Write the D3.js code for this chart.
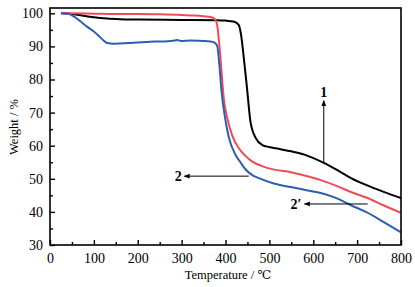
<!DOCTYPE html>
<html>
<head>
<meta charset="utf-8">
<script src="https://cdn.jsdelivr.net/npm/d3@7"></script>
<style>
  body { margin: 0; background: #fff; }
  svg { display: block; font-family: "Liberation Serif", "DejaVu Serif", serif; }
</style>
</head>
<body>
<svg width="415" height="287"></svg>
<script>
// sample 1 (black)
const tempBlack = [25, 50, 80, 100, 130, 160, 200, 300, 380, 400, 418, 430, 436, 441, 449, 457, 469, 484, 500, 514, 550, 580, 624, 655, 686, 738, 770, 800];
const weightBlack = [100, 99.8, 99.2, 98.8, 98.4, 98.2, 98.1, 98, 97.9, 97.8, 97.5, 96.5, 93, 87.4, 77.4, 67.2, 62.3, 60.2, 59.6, 59.2, 58.3, 57.3, 54.8, 52.6, 50.2, 47.2, 45.6, 44.2];

// sample 2 (red)
const tempRed = [25, 50, 100, 150, 200, 250, 300, 330, 350, 366, 373, 378, 381, 386, 391, 396, 404, 415, 430, 445, 461, 480, 514, 549, 580, 617, 660, 686, 724, 760, 800];
const weightRed = [100, 100, 99.9, 99.8, 99.8, 99.7, 99.5, 99.3, 99.1, 98.9, 98.5, 97.8, 96.5, 90.4, 82.4, 74.3, 68.4, 63.2, 59.3, 57, 55.2, 54, 52.7, 52, 51, 49.6, 47.5, 46, 44.2, 42, 39.7];

// sample 2' (blue)
const tempBlue = [25, 40, 55, 70, 85, 100, 114, 122, 130, 145, 160, 180, 200, 220, 240, 260, 280, 290, 300, 320, 340, 355, 366, 374, 381, 386, 391, 399, 408, 423, 434, 446, 460, 476, 510, 549, 580, 617, 650, 686, 720, 760, 800];
const weightBlue = [100, 99.9, 99, 97.5, 95.9, 94.5, 92.8, 91.8, 91, 90.8, 90.9, 91, 91.2, 91.3, 91.5, 91.5, 91.7, 91.9, 91.6, 91.8, 91.7, 91.6, 91.5, 91.2, 90.2, 84.4, 76.3, 68.4, 62.3, 57.2, 55, 52.8, 51.2, 50.2, 48.6, 47.5, 46.7, 45.7, 44.3, 42, 40, 37, 33.8];

const xTicks = [0, 100, 200, 300, 400, 500, 600, 700, 800];
const yTicks = [30, 40, 50, 60, 70, 80, 90, 100];

let svg = d3.select('svg');

let mLeft = 50, mRight = 401, mTop = 8, mBottom = 245;

let x = d3.scaleLinear().domain([0, 800]).range([mLeft, mRight]);
let y = d3.scaleLinear().domain([30, 101.6]).range([mBottom, mTop]);

let series = [
  { t: tempBlack, w: weightBlack, color: '#000000' },
  { t: tempRed, w: weightRed, color: '#ef4b57' },
  { t: tempBlue, w: weightBlue, color: '#2b5fb3' }
];

let line = d3.line()
  .x((d) => { return x(d[0]); })
  .y((d) => { return y(d[1]); })
  .curve(d3.curveMonotoneX);

for (let s of series) {
  svg.append('path')
    .datum(d3.zip(s.t, s.w))
    .attr('fill', 'none')
    .attr('stroke', s.color)
    .attr('stroke-width', 2)
    .attr('stroke-linejoin', 'round')
    .attr('d', line);
}

// frame
svg.append('rect')
  .attr('x', mLeft).attr('y', mTop)
  .attr('width', mRight - mLeft).attr('height', mBottom - mTop)
  .attr('fill', 'none')
  .attr('stroke', '#000')
  .attr('stroke-width', 1.6);

// axes, ticks pointing inward
let xAxis = d3.axisBottom(x).tickValues(xTicks).tickSize(-5).tickPadding(8);
let gx = svg.append('g').attr('transform', `translate(0,${mBottom})`).call(xAxis);
let xMinor = d3.axisBottom(x).tickValues(d3.range(50, 800, 100)).tickSize(-3).tickFormat('');
let gxm = svg.append('g').attr('transform', `translate(0,${mBottom})`).call(xMinor);

let yAxis = d3.axisLeft(y).tickValues(yTicks).tickSize(-5).tickPadding(7);
let gy = svg.append('g').attr('transform', `translate(${mLeft},0)`).call(yAxis);
let yMinor = d3.axisLeft(y).tickValues(d3.range(35, 100, 10)).tickSize(-3).tickFormat('');
let gym = svg.append('g').attr('transform', `translate(${mLeft},0)`).call(yMinor);

for (let g of [gx, gxm, gy, gym]) {
  g.select('.domain').remove();
  g.selectAll('line').attr('stroke', '#000').attr('stroke-width', 1.4);
  g.selectAll('text')
    .attr('fill', '#000')
    .style('font-family', '"Liberation Serif", serif')
    .style('font-size', '14px');
}

// axis titles
svg.append('text')
  .attr('x', 228)
  .attr('y', 279)
  .attr('text-anchor', 'middle')
  .style('font-size', '12.5px')
  .text('Temperature / ℃');

svg.append('text')
  .attr('transform', 'translate(18,127) rotate(-90)')
  .attr('text-anchor', 'middle')
  .style('font-size', '12.5px')
  .text('Weight / %');

// annotations
let defs = svg.append('defs');
defs.append('marker')
  .attr('id', 'arrow')
  .attr('viewBox', '0 0 10 10')
  .attr('refX', 9).attr('refY', 5)
  .attr('markerWidth', 7).attr('markerHeight', 6)
  .attr('orient', 'auto')
  .append('path')
  .attr('d', 'M0,1 L10,5 L0,9 Z')
  .attr('fill', '#000');

let notes = [
  { label: '1', from: [624, 54.8], to: [624, 73.6], tx: 624, ty: 76.3, anchor: 'middle' },
  { label: '2', from: [453, 50.8], to: [306, 50.8], tx: 300, ty: 50.8, anchor: 'end' },
  { label: '2\u2032', from: [724, 42.4], to: [580, 42.4], tx: 573, ty: 42.4, anchor: 'end' }
];

for (let n of notes) {
  svg.append('line')
    .attr('x1', x(n.from[0])).attr('y1', y(n.from[1]))
    .attr('x2', x(n.to[0])).attr('y2', y(n.to[1]))
    .attr('stroke', '#000')
    .attr('stroke-width', 1)
    .attr('marker-end', 'url(#arrow)');
  svg.append('text')
    .attr('x', x(n.tx))
    .attr('y', y(n.ty) + 5)
    .attr('text-anchor', n.anchor)
    .style('font-size', '14px')
    .style('font-weight', 'bold')
    .text(n.label);
}
</script>
</body>
</html>
